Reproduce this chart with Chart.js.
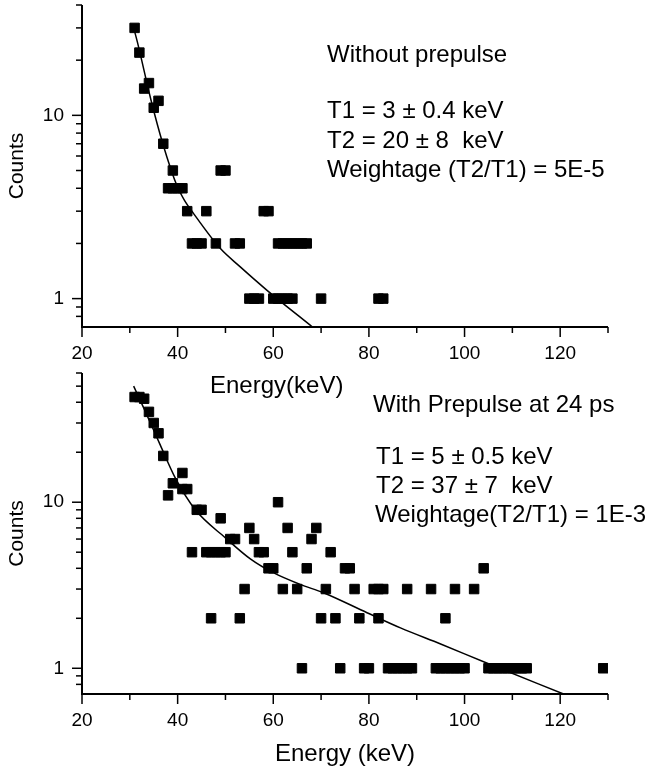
<!DOCTYPE html>
<html>
<head>
<meta charset="utf-8">
<title>Counts vs Energy</title>
<script src="https://cdn.jsdelivr.net/npm/chart.js"></script>
<style>
  html, body { margin: 0; padding: 0; background: #fff; }
  #wrap { position: relative; width: 657px; height: 775px; }
  #wrap canvas { position: absolute; left: 0; top: 0; }
</style>
</head>
<body>
<div id="wrap">
  <canvas id="bottomChart" width="657" height="775"></canvas>
  <canvas id="topChart" width="657" height="775"></canvas>
</div>
<script>
// without prepulse
const topEnergy = [31, 32, 33, 34, 35, 36, 37, 38, 39, 40, 41, 39, 49, 50, 42, 46, 58, 59,
  43, 44, 45, 48, 52, 53, 61, 62, 63, 64, 65, 66, 67, 55, 56, 57, 60, 61, 62, 63, 64, 70, 82, 83];
const topCounts = [30, 22, 14, 15, 11, 12, 7, 4, 4, 4, 4, 5, 5, 5, 3, 3, 3, 3,
  2, 2, 2, 2, 2, 2, 2, 2, 2, 2, 2, 2, 2, 1, 1, 1, 1, 1, 1, 1, 1, 1, 1, 1];
const topFitEnergy = [30.8, 31.6, 34.4, 36.9, 39.9, 41.4, 43.3, 48.9, 53.1, 58.7, 68.2];
const topFitCounts = [30, 25, 12.2, 7, 4.1, 3.45, 2.92, 1.88, 1.49, 1.11, 0.7];

// with prepulse at 24 ps
const bottomEnergy = [31, 32, 33, 34, 35, 36, 37, 38, 39, 41, 41, 42, 44, 45, 49, 61,
  55, 63, 69,
  51, 52, 56, 68,
  43, 46, 47, 48, 49, 50, 57, 58, 64, 72,
  59, 60, 67, 75, 76, 104,
  54, 62, 65, 71, 77, 81, 82, 83, 88, 93, 98, 102,
  47, 53, 70, 73, 78, 82, 96,
  66, 74, 79, 80, 84, 85, 86, 87, 88, 89, 94, 95, 96, 97, 98, 99, 100,
  105, 106, 107, 108, 109, 110, 111, 112, 113, 129];
const bottomCounts = [43, 43, 42, 35, 30, 26, 19, 11, 13, 15, 12, 12, 9, 9, 8, 10,
  7, 7, 7,
  6, 6, 6, 6,
  5, 5, 5, 5, 5, 5, 5, 5, 5, 5,
  4, 4, 4, 4, 4, 4,
  3, 3, 3, 3, 3, 3, 3, 3, 3, 3, 3, 3,
  2, 2, 2, 2, 2, 2, 2,
  1, 1, 1, 1, 1, 1, 1, 1, 1, 1, 1, 1, 1, 1, 1, 1, 1,
  1, 1, 1, 1, 1, 1, 1, 1, 1, 1];
const bottomFitEnergy = [30.8, 32.9, 36.4, 39.5, 43.7, 50, 55.2, 60.1, 65.6, 70.5, 79.6, 86.6, 95, 104.5, 120.7];
const bottomFitCounts = [50, 37, 22, 14, 9.0, 6.1, 4.56, 3.75, 3.2, 2.85, 2.16, 1.75, 1.4, 1.08, 0.7];

// axes
const energyTicks = [20, 30, 40, 50, 60, 70, 80, 90, 100, 110, 120, 130];
const energyLabels = [20, 40, 60, 80, 100, 120];
const topCountTicks = [0.8, 0.9, 1, 2, 3, 4, 5, 6, 7, 8, 9, 10, 20, 30, 40];
const bottomCountTicks = [0.8, 0.9, 1, 2, 3, 4, 5, 6, 7, 8, 9, 10, 20, 30, 40, 50, 60];
const countLabels = [1, 10];

const FONT = "'Liberation Sans', Arial, Helvetica, sans-serif";
Chart.defaults.font.family = FONT;
Chart.defaults.color = '#000';

const toPoints = (xs, ys) => xs.map((x, i) => ({ x: x, y: ys[i] }));

// tick marks (long at labelled values) and the two axis lines
const axisMarks = {
  id: 'axisMarks',
  afterDraw(chart) {
    const { ctx, chartArea: a, scales: { x, y } } = chart;
    ctx.save();
    ctx.strokeStyle = '#000';
    ctx.lineWidth = 1.5;
    x.ticks.forEach(t => {
      const px = x.getPixelForValue(t.value);
      const len = energyLabels.includes(t.value) ? 10 : 6;
      ctx.beginPath();
      ctx.moveTo(px, a.bottom);
      ctx.lineTo(px, a.bottom + len);
      ctx.stroke();
    });
    y.ticks.forEach(t => {
      const py = y.getPixelForValue(t.value);
      const len = countLabels.includes(t.value) ? 10 : 6;
      ctx.beginPath();
      ctx.moveTo(a.left, py);
      ctx.lineTo(a.left - len, py);
      ctx.stroke();
    });
    ctx.lineWidth = 2;
    ctx.beginPath();
    ctx.moveTo(a.left, a.top);
    ctx.lineTo(a.left, a.bottom);
    ctx.lineTo(a.right, a.bottom);
    ctx.stroke();
    ctx.restore();
  }
};

// free text written on the figure
const notes = {
  id: 'notes',
  afterDraw(chart, args, opts) {
    const ctx = chart.ctx;
    ctx.save();
    ctx.fillStyle = '#000';
    ctx.font = '24px ' + FONT;
    ctx.textBaseline = 'alphabetic';
    opts.items.forEach(n => ctx.fillText(n.text, n.x, n.y));
    ctx.restore();
  }
};

function makeChart(id, cfg) {
  return new Chart(document.getElementById(id), {
    type: 'scatter',
    data: {
      datasets: [
        {
          data: toPoints(cfg.energy, cfg.counts),
          pointStyle: 'rect',
          pointRadius: 6.7,
          pointHoverRadius: 6.7,
          backgroundColor: '#000',
          borderColor: '#000',
          borderWidth: 1
        },
        {
          data: toPoints(cfg.fitEnergy, cfg.fitCounts),
          showLine: true,
          pointRadius: 0,
          borderColor: '#000',
          borderWidth: 1.5,
          cubicInterpolationMode: 'monotone'
        }
      ]
    },
    options: {
      responsive: false,
      animation: false,
      events: [],
      layout: { padding: cfg.padding, autoPadding: false },
      plugins: {
        legend: { display: false },
        tooltip: { enabled: false },
        notes: { items: cfg.notes }
      },
      scales: {
        x: {
          type: 'linear',
          min: 20,
          max: 130,
          grid: { display: false, drawTicks: false },
          border: { display: false },
          afterBuildTicks: s => { s.ticks = energyTicks.map(v => ({ value: v })); },
          afterFit: s => { s.height = cfg.xHeight; s.paddingLeft = 0; s.paddingRight = 0; },
          ticks: {
            autoSkip: false,
            maxRotation: 0,
            padding: 15,
            font: { size: 19 },
            callback: v => energyLabels.includes(v) ? String(v) : ''
          },
          title: {
            display: !!cfg.xTitle,
            text: cfg.xTitle,
            font: { size: 24 },
            padding: { top: 0, bottom: 6 }
          }
        },
        y: {
          type: 'logarithmic',
          min: 0.7,
          max: cfg.yMax,
          grid: { display: false, drawTicks: false },
          border: { display: false },
          afterBuildTicks: s => { s.ticks = cfg.yTicks.map(v => ({ value: v })); },
          afterFit: s => { s.width = 82; s.paddingTop = 0; s.paddingBottom = 0; },
          ticks: {
            autoSkip: false,
            padding: 18,
            font: { size: 19 },
            callback: v => countLabels.includes(v) ? String(v) : ''
          },
          title: {
            display: true,
            text: 'Counts',
            font: { size: 21 },
            padding: { top: 5, bottom: 0 }
          }
        }
      }
    },
    plugins: [axisMarks, notes]
  });
}

makeChart('topChart', {
  energy: topEnergy,
  counts: topCounts,
  fitEnergy: topFitEnergy,
  fitCounts: topFitCounts,
  yMax: 40,
  yTicks: topCountTicks,
  xHeight: 40,
  xTitle: '',
  padding: { left: 0, right: 49, top: 5, bottom: 408 },
  notes: [
    { text: 'Without prepulse', x: 327, y: 62 },
    { text: 'T1 = 3 ± 0.4 keV', x: 327, y: 118 },
    { text: 'T2 = 20 ± 8  keV', x: 327, y: 148 },
    { text: 'Weightage (T2/T1) = 5E-5', x: 327, y: 177 },
    { text: 'Energy(keV)', x: 210, y: 393 }
  ]
});

makeChart('bottomChart', {
  energy: bottomEnergy,
  counts: bottomCounts,
  fitEnergy: bottomFitEnergy,
  fitCounts: bottomFitCounts,
  yMax: 60,
  yTicks: bottomCountTicks,
  xHeight: 81,
  xTitle: 'Energy (keV)',
  padding: { left: 0, right: 49, top: 373, bottom: 0 },
  notes: [
    { text: 'With Prepulse at 24 ps', x: 373, y: 412 },
    { text: 'T1 = 5 ± 0.5 keV', x: 376, y: 464 },
    { text: 'T2 = 37 ± 7  keV', x: 376, y: 493 },
    { text: 'Weightage(T2/T1) = 1E-3', x: 375, y: 522 }
  ]
});
</script>
</body>
</html>
